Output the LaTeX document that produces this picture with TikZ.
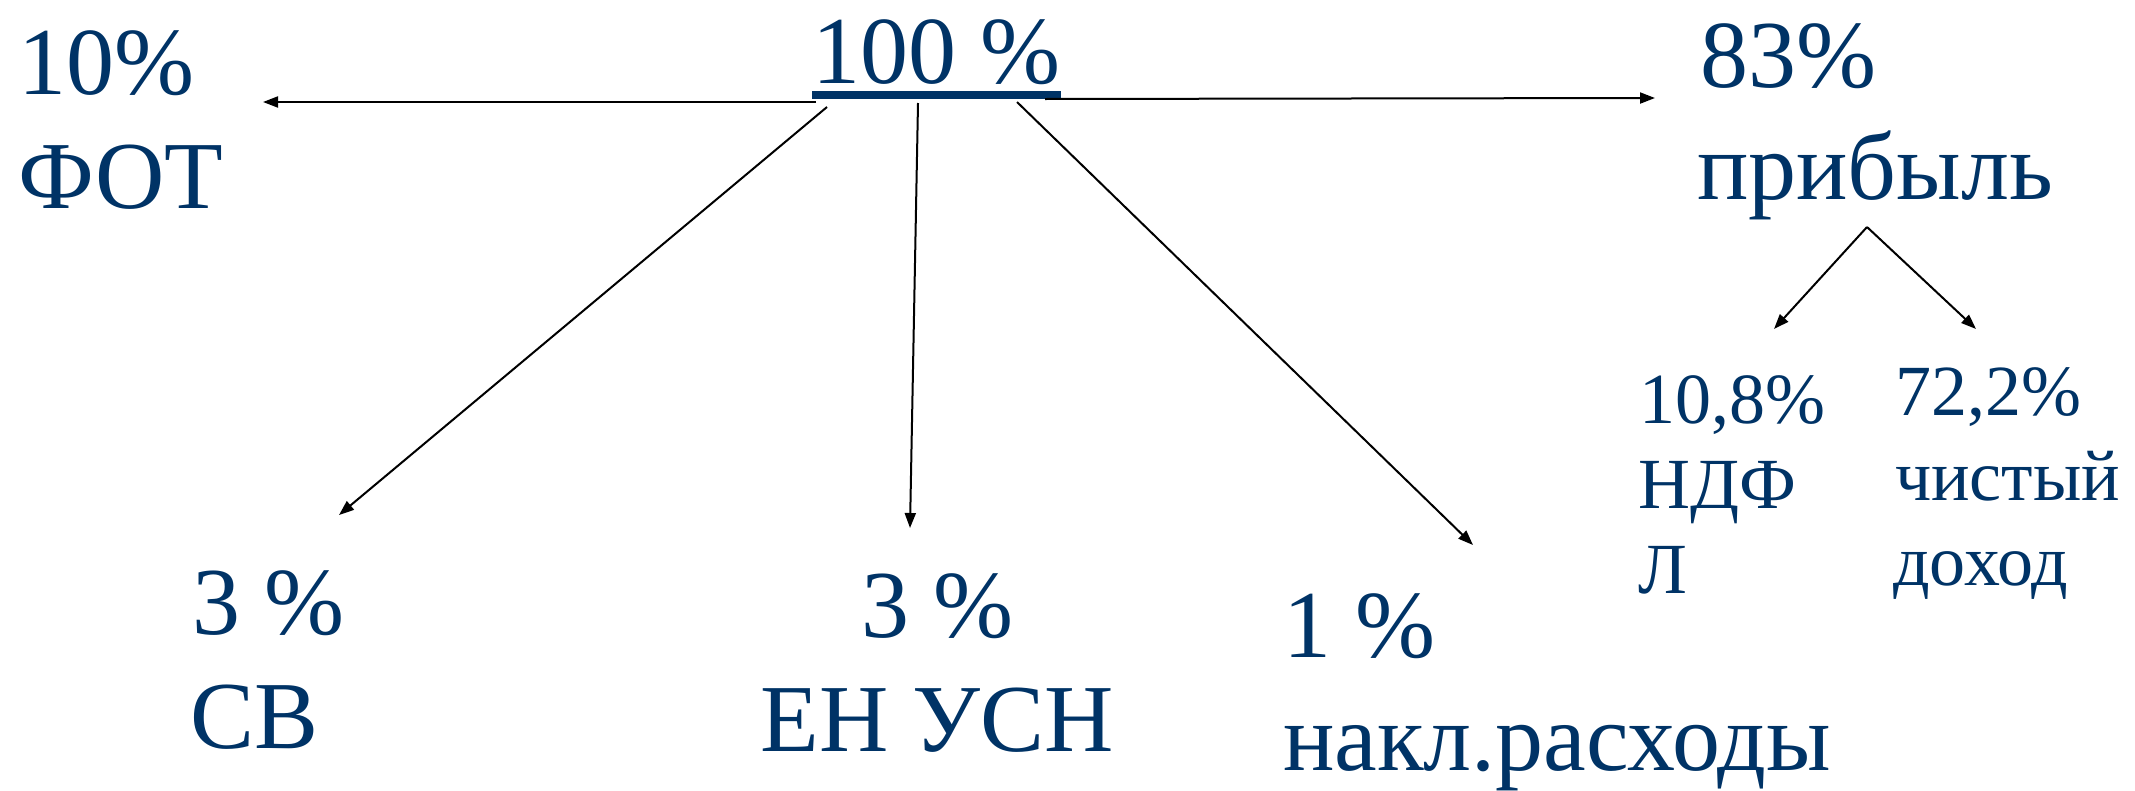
\documentclass[tikz,border=0pt]{standalone}
\usepackage{fontspec}
\newfontfamily\timesfont{Liberation Serif}
\usetikzlibrary{arrows.meta,positioning,calc}
\definecolor{navy}{RGB}{0,51,102}

\begin{document}
\begin{tikzpicture}[
  x=1pt, y=-1pt,
  big/.style={inner sep=0pt, text=navy, font=\fontsize{96}{113}\timesfont},
  small/.style={inner sep=0pt, text=navy, font=\fontsize{72}{85}\timesfont},
  link/.style={draw=black, line width=2pt, -{Triangle[length=15pt,width=11pt]}}
]
  \useasboundingbox (0,0) rectangle (2135,790);

  % Whole sum, underlined, at the top.
  \node[big, anchor=base west] (total) at (812,83) {100 \%};
  \draw[navy, line width=8pt] (812,95) -- (1061,95);

  % Shares along the top row.
  \node[big, anchor=base west] (fot-pct) at (18,94) {10\%};
  \node[big, anchor=base west] (fot-name) at (18,208) {ФОТ};
  \node[big, anchor=base west] (prof-pct) at (1700,87) {83\%};
  \node[big, anchor=base west] (prof-name) at (1697,199) {прибыль};

  % Shares along the bottom row.
  \node[big, anchor=base west] (sv-pct) at (192,634) {3 \%};
  \node[big, anchor=base west] (sv-name) at (190,748) {СВ};
  \node[big, anchor=base] (usn-pct) at (937,637) {3 \%};
  \node[big, anchor=base] (usn-name) at (937,751) {ЕН УСН};
  \node[big, anchor=base west] (ovh-pct) at (1283,657) {1 \%};
  \node[big, anchor=base west] (ovh-name) at (1283,770) {накл.расходы};

  % Split of the profit.
  \node[small, anchor=base west] (ndfl-pct) at (1639,423) {10,8\%};
  \node[small, anchor=base west] (ndfl-name) at (1638,508) {НДФ};
  \node[small, anchor=base west] (ndfl-end) at (1638,593) {Л};
  \node[small, anchor=base west] (net-pct) at (1895,415) {72,2\%};
  \node[small, anchor=base west] (net-name) at (1895,500) {чистый};
  \node[small, anchor=base west] (net-end) at (1893,585) {доход};

  \coordinate (hub-w) at (816,102);
  \coordinate (hub-e) at (1045,99);
  \coordinate (hub-sv) at (827,107);
  \coordinate (hub-usn) at (918,103);
  \coordinate (hub-ovh) at (1017,102);
  \coordinate (tip-fot) at (263,102);
  \coordinate (tip-prof) at (1655,98);
  \coordinate (tip-sv) at (339,515);
  \coordinate (tip-usn) at (910,528);
  \coordinate (tip-ovh) at (1473,545);
  \coordinate (fork) at (1867,227);
  \coordinate (tip-ndfl) at (1774,329);
  \coordinate (tip-net) at (1976,329);

  \draw[link] (hub-w) -- (tip-fot);
  \draw[link] (hub-e) -- (tip-prof);
  \draw[link] (hub-sv) -- (tip-sv);
  \draw[link] (hub-usn) -- (tip-usn);
  \draw[link] (hub-ovh) -- (tip-ovh);
  \draw[link] (fork) -- (tip-ndfl);
  \draw[link] (fork) -- (tip-net);
\end{tikzpicture}
\end{document}
